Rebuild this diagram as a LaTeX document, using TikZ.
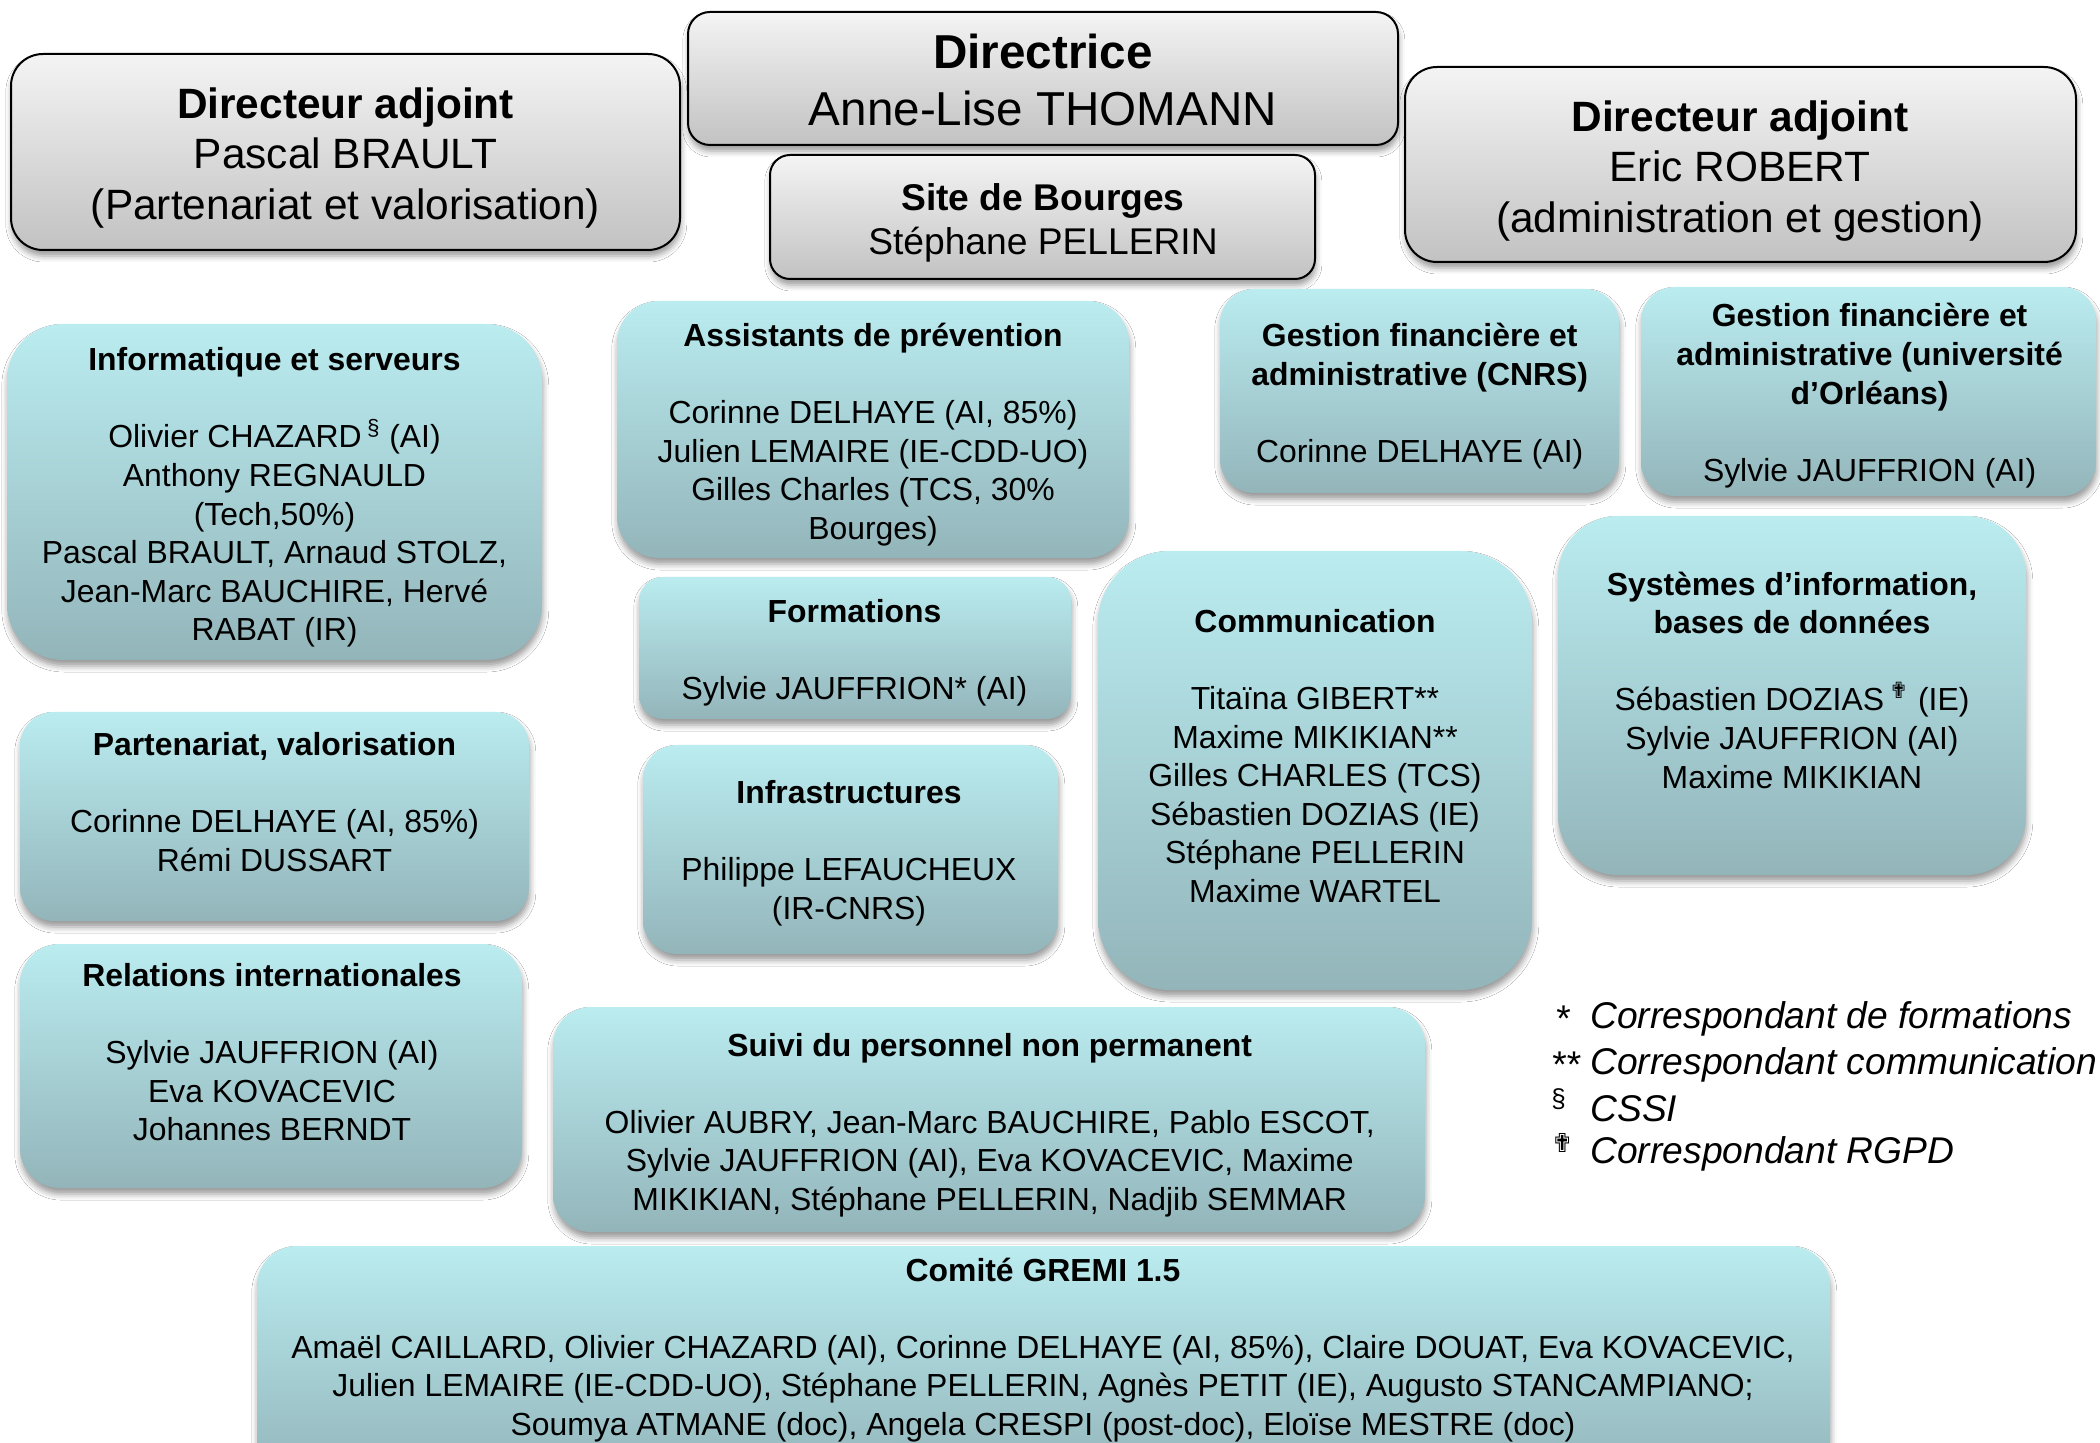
\documentclass[tikz,border=0pt]{standalone}
\usepackage{fontspec}
\setmainfont{Liberation Sans}
\newfontfamily\symfont{DejaVu Sans}
\usetikzlibrary{fit,shadows.blur}
\definecolor{ttop}{HTML}{BAECF0}
\definecolor{tbot}{HTML}{93B5BA}
\definecolor{gtop}{HTML}{F4F4F4}
\definecolor{gbot}{HTML}{C2C2C2}
\begin{document}
\begin{tikzpicture}[x=0.5pt,y=-0.5pt,
  myshadow/.style={blur shadow={shadow xshift=0.4pt,shadow yshift=-3pt,shadow blur radius=3pt,shadow opacity=40}},
  gbox/.style={draw=black,line width=1pt,top color=gtop,bottom color=gbot,inner sep=0pt,myshadow},
  tbox/.style={top color=ttop,bottom color=tbot,inner sep=0pt,myshadow},
  txt/.style={align=center,inner sep=0pt,font={\fontsize{15.95pt}{19.3pt}\selectfont}},
  gtxtA/.style={align=center,inner sep=0pt,font={\fontsize{21.2pt}{25.4pt}\selectfont}},
  gtxtB/.style={align=center,inner sep=0pt,font={\fontsize{23.8pt}{28.8pt}\selectfont}},
  gtxtC/.style={align=center,inner sep=0pt,font={\fontsize{18.6pt}{22.1pt}\selectfont}},
  legtxt/.style={anchor=west,inner sep=0pt,font={\fontsize{18.6pt}{22.1pt}\selectfont\itshape}},
  legsym/.style={anchor=west,inner sep=0pt,font={\fontsize{18.6pt}{22.1pt}\selectfont}},
]
\useasboundingbox[fill=white] (0,0) rectangle (2100,1443);

% ---------- grey boxes ----------
\node[gbox,rounded corners=16pt,fit={(11,54) (680,250)}] (dadjL) {};
\node[gbox,rounded corners=11pt,fit={(688,12) (1398,145)}] (dir) {};
\node[gbox,rounded corners=10pt,fit={(770,155) (1315,279)}] (site) {};
\node[gbox,rounded corners=16pt,fit={(1405,67) (2076,262)}] (dadjR) {};

\node[gtxtA] (dadjLT) at (345.5,158) {\textbf{Directeur adjoint}\\Pascal BRAULT\\(Partenariat et valorisation)};
\node[gtxtB] (dirT) at (1043,80) {\textbf{Directrice}\\Anne-Lise THOMANN};
\node[gtxtC] (siteT) at (1043,223) {\textbf{Site de Bourges}\\Stéphane PELLERIN};
\node[gtxtA] (dadjRT) at (1740,171) {\textbf{Directeur adjoint}\\Eric ROBERT\\(administration et gestion)};

% ---------- teal boxes ----------
\node[tbox,rounded corners=28pt,fit={(7,324) (542,660)}] (info) {};
\node[tbox,rounded corners=21pt,fit={(617,301) (1129,558)}] (assist) {};
\node[tbox,rounded corners=17pt,fit={(1220,289) (1619,493)}] (gcnrs) {};
\node[tbox,rounded corners=17pt,fit={(1641,287) (2096,496)}] (guo) {};
\node[tbox,rounded corners=12pt,fit={(639,577) (1071,719)}] (form) {};
\node[tbox,rounded corners=36pt,fit={(1098,551) (1532,990)}] (comm) {};
\node[tbox,rounded corners=30pt,fit={(1558,516) (2026,875)}] (sys) {};
\node[tbox,rounded corners=17pt,fit={(20,712) (529,921)}] (part) {};
\node[tbox,rounded corners=17pt,fit={(643,745) (1058,954)}] (infra) {};
\node[tbox,rounded corners=20pt,fit={(20,944) (522,1188)}] (relat) {};
\node[tbox,rounded corners=19pt,fit={(553,1007) (1425,1232)}] (suivi) {};
\node[tbox,rounded corners=20pt,fit={(257,1246) (1830,1480)}] (comite) {};

\node[txt] (infoT) at (274.5,497.5) {\textbf{Informatique et serveurs}\\[19.3pt]Olivier CHAZARD\,\textsuperscript{§} (AI)\\Anthony REGNAULD\\(Tech,50\%)\\Pascal BRAULT, Arnaud STOLZ,\\Jean-Marc BAUCHIRE, Hervé\\RABAT (IR)};
\node[txt] (assistT) at (873,434.6) {\textbf{Assistants de prévention}\\[19.3pt]Corinne DELHAYE (AI, 85\%)\\Julien LEMAIRE (IE-CDD-UO)\\Gilles Charles (TCS, 30\%\\Bourges)};
\node[txt] (gcnrsT) at (1419.7,396.4) {\textbf{Gestion financière et}\\\textbf{administrative (CNRS)}\\[19.3pt]Corinne DELHAYE (AI)};
\node[txt] (guoT) at (1869.6,395.7) {\textbf{Gestion financière et}\\\textbf{administrative (université}\\\textbf{d’Orléans)}\\[19.3pt]Sylvie JAUFFRION (AI)};
\node[txt] (formT) at (854.5,652.9) {\textbf{Formations}\\[19.3pt]Sylvie JAUFFRION* (AI)};
\node[txt] (commT) at (1315,756) {\textbf{Communication}\\[19.3pt]Titaïna GIBERT**\\Maxime MIKIKIAN**\\Gilles CHARLES (TCS)\\Sébastien DOZIAS (IE)\\Stéphane PELLERIN\\Maxime WARTEL};
\node[txt] (sysT) at (1792,680) {\textbf{Systèmes d’information,}\\\textbf{bases de données}\\[19.3pt]Sébastien DOZIAS\,\textsuperscript{\symfont ✟} (IE)\\Sylvie JAUFFRION (AI)\\Maxime MIKIKIAN};
\node[txt] (partT) at (274.5,802) {\textbf{Partenariat, valorisation}\\[19.3pt]Corinne DELHAYE (AI, 85\%)\\Rémi DUSSART};
\node[txt] (infraT) at (849,853) {\textbf{Infrastructures}\\[19.3pt]Philippe LEFAUCHEUX\\(IR-CNRS)};
\node[txt] (relatT) at (272,1052) {\textbf{Relations internationales}\\[19.3pt]Sylvie JAUFFRION (AI)\\Eva KOVACEVIC\\Johannes BERNDT};
\node[txt] (suiviT) at (989.7,1125) {\textbf{Suivi du personnel non permanent}\\[19.3pt]Olivier AUBRY, Jean-Marc BAUCHIRE, Pablo ESCOT,\\Sylvie JAUFFRION (AI), Eva KOVACEVIC, Maxime\\MIKIKIAN, Stéphane PELLERIN, Nadjib SEMMAR};
\node[txt] (comiteT) at (1043,1350) {\textbf{Comité GREMI 1.5}\\[19.3pt]Amaël CAILLARD, Olivier CHAZARD (AI), Corinne DELHAYE (AI, 85\%), Claire DOUAT, Eva KOVACEVIC,\\Julien LEMAIRE (IE-CDD-UO), Stéphane PELLERIN, Agnès PETIT (IE), Augusto STANCAMPIANO;\\Soumya ATMANE (doc), Angela CRESPI (post-doc), Eloïse MESTRE (doc)};

% ---------- legend ----------
\node[legsym] (s1) at (1556,1019) {*};
\node[legsym] (s2) at (1552,1065) {**};
\node[legsym] (s3) at (1551,1104) {\textsuperscript{§}};
\node[legsym] (s4) at (1551,1149) {\textsuperscript{\symfont ✟}};
\node[legtxt] (l1) at (1590,1019) {Correspondant de formations};
\node[legtxt] (l2) at (1590,1065) {Correspondant communication};
\node[legtxt] (l3) at (1590,1109) {CSSI};
\node[legtxt] (l4) at (1590,1154) {Correspondant RGPD};
\end{tikzpicture}
\end{document}
